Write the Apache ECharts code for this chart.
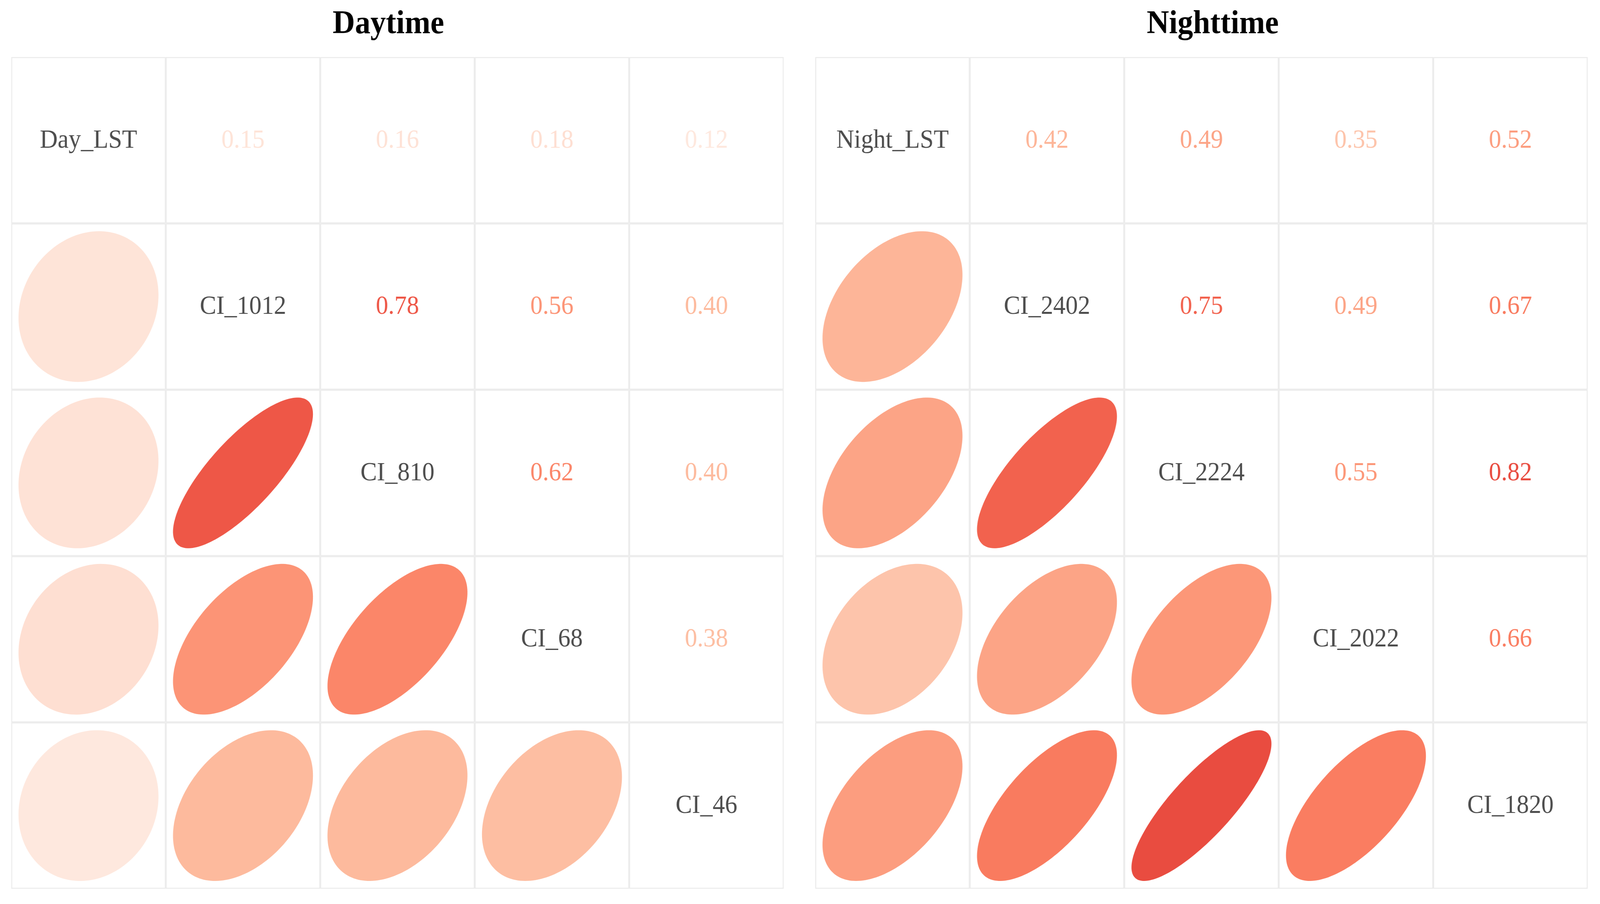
<!DOCTYPE html>
<html>
<head>
<meta charset="utf-8">
<script src="https://cdn.jsdelivr.net/npm/echarts@6/dist/echarts.min.js"></script>
<style>
html,body{margin:0;padding:0;background:#fff;overflow:hidden;}
#chart{width:4408px;height:2313px;transform-origin:0 0;}
</style>
</head>
<body>
<div id="chart"></div>
<script>
// ---- data ----
const panelTitles = ['Daytime', 'Nighttime'];
const dayVars = ['Day_LST', 'CI_1012', 'CI_810', 'CI_68', 'CI_46'];
const dayCorr = [
  [1.00, 0.15, 0.16, 0.18, 0.12],
  [0.15, 1.00, 0.78, 0.56, 0.40],
  [0.16, 0.78, 1.00, 0.62, 0.40],
  [0.18, 0.56, 0.62, 1.00, 0.38],
  [0.12, 0.40, 0.40, 0.38, 1.00]
];
const nightVars = ['Night_LST', 'CI_2402', 'CI_2224', 'CI_2022', 'CI_1820'];
const nightCorr = [
  [1.00, 0.42, 0.49, 0.35, 0.52],
  [0.42, 1.00, 0.75, 0.49, 0.67],
  [0.49, 0.75, 1.00, 0.55, 0.82],
  [0.35, 0.49, 0.55, 1.00, 0.66],
  [0.52, 0.67, 0.82, 0.66, 1.00]
];
// colour scale for r in [0,1], evenly spaced stops
const corrColors = ['#FFF5F0', '#FEEBE2', '#FEDCCE', '#FDCDB8', '#FDBA9D', '#FCA283',
                    '#FC8B6D', '#F87459', '#EC5043', '#DD3A33', '#C5262A'];

const panels = [dayVars, nightVars];
const mats = [dayCorr, nightCorr];

function toData(mat) {
  const out = [];
  for (let i = 0; i < mat.length; i++)
    for (let j = 0; j < mat.length; j++)
      out.push([j, i, mat[i][j]]);
  return out;
}

const FONT = '"Liberation Serif", "Times New Roman", serif';
const el = document.getElementById('chart');
// fit the 4408x2313 design into whatever viewport the browser really has
const sx = (window.innerWidth || 4408) / 4408;
const sy = (window.innerHeight || 2313) / 2313;
el.style.transform = 'scale(' + sx + ',' + sy + ')';

function makeRender(vars) {
  return function (params, api) {
    const col = api.value(0), row = api.value(1), r = api.value(2);
    const p0 = api.coord([col, row]);
    const p1 = api.coord([col + 1, row + 1]);
    const x0 = Math.min(p0[0], p1[0]), y0 = Math.min(p0[1], p1[1]);
    const w = Math.abs(p1[0] - p0[0]), h = Math.abs(p1[1] - p0[1]);
    const lw = 2.6;
    const children = [{
      type: 'rect',
      shape: { x: x0 + lw / 2, y: y0 + lw / 2, width: w - lw, height: h - lw },
      style: { fill: '#ffffff', stroke: '#EBEBEB', lineWidth: lw }
    }];
    const color = api.visual('color');
    const cx = x0 + w / 2, cy = y0 + h / 2;
    if (row > col) {
      const d = Math.acos(r);
      const pts = [];
      const n = 160;
      for (let k = 0; k < n; k++) {
        const t = 2 * Math.PI * k / n;
        const ex = Math.cos(t + d / 2), ey = Math.cos(t - d / 2);
        pts.push(api.coord([col + 0.5 + 0.453 * ex, row + 0.5 - 0.453 * ey]));
      }
      children.push({ type: 'polygon', shape: { points: pts }, style: { fill: color } });
    } else if (row < col) {
      children.push({
        type: 'text', x: cx, y: cy + 1,
        style: { text: r.toFixed(2), fill: color, font: '68px ' + FONT, textAlign: 'center', textVerticalAlign: 'middle' }
      });
    } else {
      children.push({
        type: 'text', x: cx, y: cy + 1,
        style: { text: vars[col], fill: '#4D4D4D', font: '68px ' + FONT, textAlign: 'center', textVerticalAlign: 'middle' }
      });
    }
    return { type: 'group', children: children };
  };
}

const gridLefts = [31, 2246];
const option = {
  backgroundColor: '#ffffff',
  animation: false,
  title: [
    { text: panelTitles[0], left: 1065, top: 16, textAlign: 'center',
      textStyle: { fontFamily: FONT, fontWeight: 'bold', fontSize: 85, color: '#000' } },
    { text: panelTitles[1], left: 3336, top: 16, textAlign: 'center',
      textStyle: { fontFamily: FONT, fontWeight: 'bold', fontSize: 85, color: '#000' } }
  ],
  visualMap: {
    type: 'continuous', show: false, dimension: 2, min: 0, max: 1,
    seriesIndex: [0, 1], inRange: { color: corrColors }
  },
  grid: gridLefts.map(l => ({ left: l, top: 146, width: 2128, height: 2128 })),
  xAxis: [0, 1].map(i => ({ type: 'value', gridIndex: i, min: 0, max: 5, show: false })),
  yAxis: [0, 1].map(i => ({ type: 'value', gridIndex: i, min: 0, max: 5, inverse: true, show: false })),
  series: [0, 1].map(i => ({
    type: 'custom', xAxisIndex: i, yAxisIndex: i,
    renderItem: makeRender(panels[i]),
    data: toData(mats[i]),
    silent: true
  }))
};
const chart = echarts.init(el, null, { renderer: 'canvas', width: 4408, height: 2313 });
chart.setOption(option);
</script>
</body>
</html>
